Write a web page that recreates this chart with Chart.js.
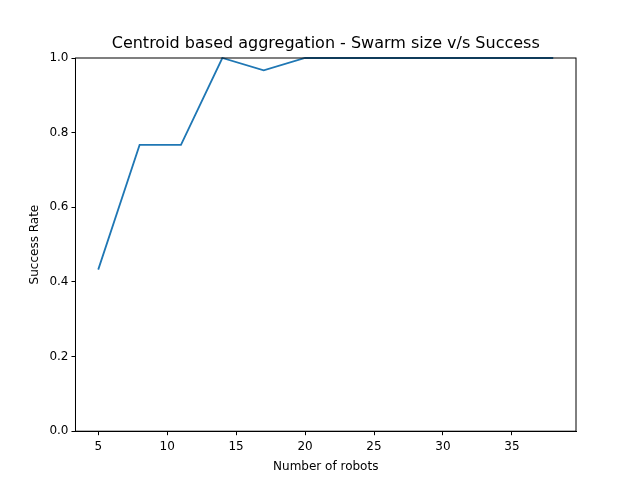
<!DOCTYPE html>
<html>
<head>
<script src="https://cdn.jsdelivr.net/npm/chart.js@4"></script>
<style>
  body { margin: 0; background: #fff; }
  #wrap { width: 640px; height: 480px; }
</style>
</head>
<body>
<div id="wrap"><canvas id="chart" width="640" height="480"></canvas></div>
<script>
const robots = [5, 8, 11, 14, 17, 20, 23, 26, 29, 32, 35, 38];
const successRate = [0.433, 0.767, 0.767, 1.0, 0.967, 1.0, 1.0, 1.0, 1.0, 1.0, 1.0, 1.0];
const xTicks = [5, 10, 15, 20, 25, 30, 35];
const titleText = "Centroid based aggregation - Swarm size v/s Success";

const font = { family: "DejaVu Sans", size: 12 };
const tickGrid = { display: true, drawOnChartArea: false, drawTicks: true, tickLength: 4, color: "#000" };

new Chart(document.getElementById("chart"), {
  type: "line",
  data: {
    datasets: [{
      data: robots.map((x, i) => ({ x: x, y: successRate[i] })),
      borderColor: "#1f77b4",
      borderWidth: 1.8,
      pointRadius: 0,
      tension: 0,
      clip: 1
    }]
  },
  options: {
    responsive: false,
    animation: false,
    layout: { padding: { left: 24, right: 64, top: 58, bottom: 4 } },
    plugins: {
      legend: { display: false },
      tooltip: { enabled: false },
      title: { display: false }
    },
    scales: {
      x: {
        type: "linear",
        min: 3.35,
        max: 39.65,
        afterBuildTicks: axis => { axis.ticks = xTicks.map(v => ({ value: v })); },
        grid: tickGrid,
        border: { color: "#000" },
        ticks: { color: "#000", font: font, padding: 4 },
        title: { display: true, text: "Number of robots", color: "#000", font: font, padding: 2 }
      },
      y: {
        min: 0,
        max: 1,
        ticks: { stepSize: 0.2, color: "#000", font: font, callback: v => v.toFixed(1) },
        grid: tickGrid,
        border: { color: "#000" },
        title: { display: true, text: "Success Rate", color: "#000", font: font, padding: 4 }
      }
    }
  },
  plugins: [{
    id: "frame",
    afterDraw(c) {
      const a = c.chartArea, ctx = c.ctx;
      ctx.save();
      ctx.strokeStyle = "#000";
      ctx.lineWidth = 1;
      ctx.strokeRect(a.left, a.top, a.right - a.left, a.bottom - a.top);
      ctx.fillStyle = "#000";
      ctx.font = "16px 'DejaVu Sans'";
      ctx.textAlign = "center";
      ctx.textBaseline = "bottom";
      ctx.fillText(titleText, (a.left + a.right) / 2, a.top - 6);
      ctx.restore();
    }
  }]
});
</script>
</body>
</html>
